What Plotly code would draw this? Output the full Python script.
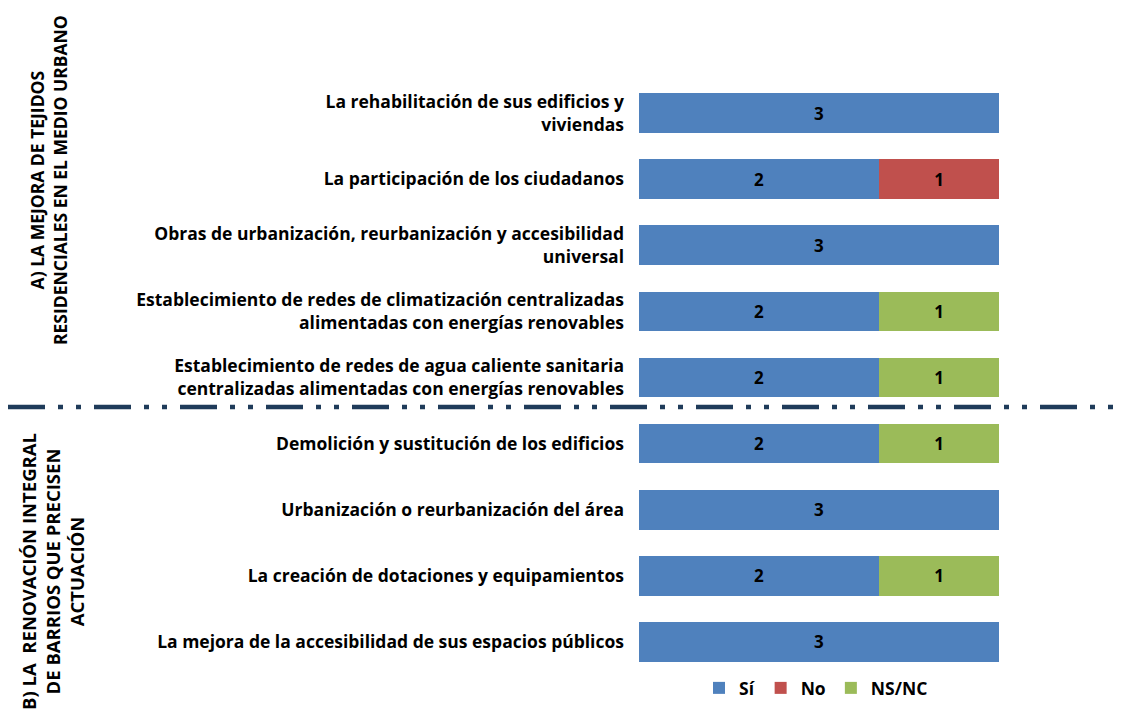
import plotly.graph_objects as go

categories = [
    "La rehabilitación de sus edificios y<br>viviendas",
    "La participación de los ciudadanos",
    "Obras de urbanización, reurbanización y accesibilidad<br>universal",
    "Establecimiento de redes de climatización centralizadas<br>alimentadas con energías renovables",
    "Establecimiento de redes de agua caliente sanitaria<br>centralizadas alimentadas con energías renovables",
    "Demolición y sustitución de los edificios",
    "Urbanización o reurbanización del área",
    "La creación de dotaciones y equipamientos",
    "La mejora de la accesibilidad de sus espacios públicos",
]
si = [3, 2, 3, 2, 2, 2, 3, 2, 3]
no = [0, 1, 0, 0, 0, 0, 0, 0, 0]
nsnc = [0, 0, 0, 1, 1, 1, 0, 1, 0]
series = [("Sí", si, "#4F81BD"), ("No", no, "#C0504D"), ("NS/NC", nsnc, "#9BBB59")]
group_a = "A) LA MEJORA DE TEJIDOS<br>RESIDENCIALES EN EL MEDIO URBANO"
group_b = "B) LA  RENOVACIÓN INTEGRAL<br>DE BARRIOS QUE PRECISEN<br>ACTUACIÓN"

FONT = "Open Sans"
FS = 17.5
OFF = 8  # page body margin
W, H = 1131, 714
L, T = 639 - OFF, 80 - OFF
pw, ph = 360, 595
R = W - L - pw
B = H - T - ph

fig = go.Figure()
for name, vals, color in series:
    fig.add_trace(go.Bar(
        y=categories, x=vals, name=name, orientation="h",
        marker=dict(color=color, line=dict(width=0)),
        text=[str(v) if v else "" for v in vals],
        textposition="inside", insidetextanchor="middle",
        textfont=dict(family=FONT, size=17, color="black", weight="bold"),
        hoverinfo="skip",
    ))

def px_x(px):
    return (px - OFF - L) / pw

def px_y(py):
    return (T + ph - (py - OFF)) / ph

fig.add_shape(type="line", xref="paper", yref="paper",
              x0=px_x(8), x1=px_x(1122), y0=px_y(407), y1=px_y(407),
              line=dict(color="#1F3B5A", width=4.5, dash="37px,13px,5px,13px,5px,13px"))

fig.add_annotation(text="<b>" + group_a + "</b>", xref="paper", yref="paper",
                   x=px_x(49), y=px_y(180), textangle=-90, showarrow=False,
                   font=dict(family=FONT, size=FS, color="black"),
                   xanchor="center", yanchor="middle", align="center")
fig.add_annotation(text="<b>" + group_b + "</b>", xref="paper", yref="paper",
                   x=px_x(52), y=px_y(572), textangle=-90, showarrow=False,
                   font=dict(family=FONT, size=18.5, color="black"),
                   xanchor="center", yanchor="middle", align="center")

fig.update_layout(
    width=W, height=H,
    margin=dict(l=L, r=R, t=T, b=B, autoexpand=False),
    barmode="stack", bargap=0.4,
    plot_bgcolor="white", paper_bgcolor="white",
    font=dict(family=FONT, size=FS, color="black"),
    xaxis=dict(range=[0, 3], visible=False, showgrid=False, zeroline=False),
    yaxis=dict(autorange="reversed", showgrid=False, zeroline=False, showline=False,
               ticks="", ticklabelstandoff=14,
               tickfont=dict(family=FONT, size=FS, color="black", weight="bold")),
    legend=dict(orientation="h", x=px_x(816), y=px_y(688), xanchor="center", yanchor="middle",
                font=dict(family=FONT, size=FS, color="black", weight="bold"),
                traceorder="normal", itemwidth=30, bgcolor="rgba(0,0,0,0)"),
    showlegend=True,
)

fig.write_html("out.html")
